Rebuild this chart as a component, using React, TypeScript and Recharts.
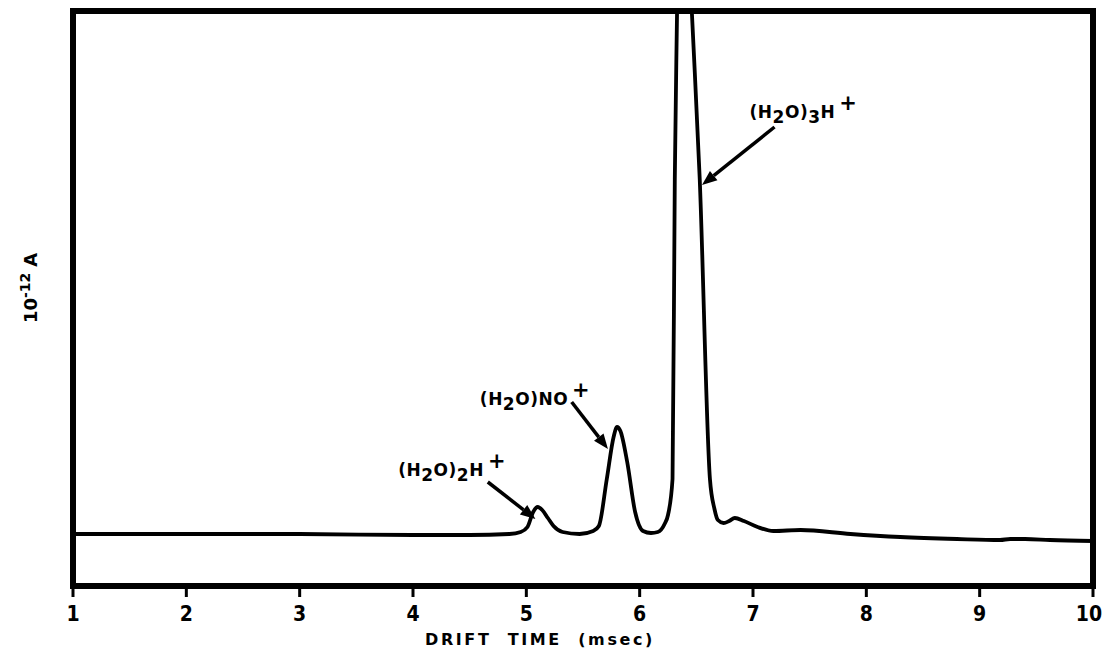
import React from 'react';
import { LineChart, Line, XAxis, YAxis, ReferenceArea, ReferenceLine, ReferenceDot } from 'recharts';

// Drift time (msec)
const driftTimes = [
  1.0, 2.0, 3.0, 4.0, 4.5, 4.85, 4.95, 5.01, 5.06, 5.10, 5.14, 5.19, 5.24, 5.32, 5.47, 5.59,
  5.64, 5.71, 5.77, 5.80, 5.83, 5.89, 5.96, 6.03, 6.10, 6.16, 6.22, 6.25, 6.29, 6.31, 6.33,
  6.36, 6.46, 6.53, 6.62, 6.66, 6.69, 6.74, 6.79, 6.84, 6.92, 7.04, 7.18, 7.42, 7.86, 8.30,
  8.80, 9.18, 9.27, 9.40, 9.62, 10.0,
];
// Ion current (arbitrary units, 10^-12 A scale)
const ionCurrent = [
  52, 52, 52, 51, 51, 52, 54, 59, 74, 79, 76, 68, 60, 54, 52, 55,
  60, 107, 149, 159, 155, 124, 74, 55, 53, 54, 62, 71, 107, 407, 575,
  830, 575, 407, 107, 77, 66, 63, 65, 68, 65, 59, 55, 56, 52, 49,
  47, 46, 47, 47, 46, 45,
];
const xTicks = [1, 2, 3, 4, 5, 6, 7, 8, 9, 10];

// Peak annotations: label anchor (t, v) and arrow from -> to
const annLabelT = [3.87, 4.59, 6.97];
const annLabelV = [110, 181, 468];
const annArrowFrom = [[4.66, 104], [5.40, 184], [7.19, 459]];
const annArrowTo = [[5.08, 67], [5.72, 137], [6.55, 401]];

const data = driftTimes.map((t, i) => ({ t, v: ionCurrent[i] }));

const FONT = '"DejaVu Sans", sans-serif';

const labelParts: Array<Array<[string, 'n' | 'sub' | 'sup']>> = [
  [['(H', 'n'], ['2', 'sub'], ['O)', 'n'], ['2', 'sub'], ['H', 'n'], ['+', 'sup']],
  [['(H', 'n'], ['2', 'sub'], ['O)NO', 'n'], ['+', 'sup']],
  [['(H', 'n'], ['2', 'sub'], ['O)', 'n'], ['3', 'sub'], ['H', 'n'], ['+', 'sup']],
];

function renderIonLabel(idx: number) {
  return (p: any) => {
    const parts = labelParts[idx];
    let prev: 'n' | 'sub' | 'sup' = 'n';
    const offs = { n: 0, sub: 5, sup: -8 };
    return (
      <text x={p.cx} y={p.cy} fontFamily={FONT} fontWeight="bold" fill="#000" fontSize={17} letterSpacing={0.5}>
        {parts.map(([s, k], i) => {
          const dy = offs[k] - offs[prev];
          prev = k;
          return (
            <tspan key={i} dy={dy} dx={k === 'sup' ? 4 : 0} fontSize={k === 'n' ? 17 : k === 'sub' ? 17 : 21}>
              {s}
            </tspan>
          );
        })}
      </text>
    );
  };
}

const arrowShape = (p: any) => {
  const { x1, y1, x2, y2 } = p;
  const dx = x2 - x1;
  const dy = y2 - y1;
  const len = Math.sqrt(dx * dx + dy * dy);
  const ux = dx / len;
  const uy = dy / len;
  const hl = 15;
  const hw = 6;
  const bx = x2 - ux * hl;
  const by = y2 - uy * hl;
  const pts = `${x2},${y2} ${bx - uy * hw},${by + ux * hw} ${bx + uy * hw},${by - ux * hw}`;
  return (
    <g>
      <line x1={x1} y1={y1} x2={bx} y2={by} stroke="#000" strokeWidth={3.5} />
      <polygon points={pts} fill="#000" />
    </g>
  );
};

const XTick = (props: any) => {
  const { x, y, payload, index } = props;
  const last = index === xTicks.length - 1;
  return (
    <text
      x={last ? x - 4 : x}
      y={y}
      dy="0.75em"
      textAnchor="middle"
      fill="#000"
      fontFamily={'"DejaVu Sans Condensed", "DejaVu Sans", sans-serif'}
      fontWeight="bold"
      fontSize={21}
    >
      {payload.value}
    </text>
  );
};

const titles = (props: any) => {
  const vb = props.viewBox || { x: 73, y: 586, width: 1020, height: 30 };
  const ax = vb.x;
  const ay = vb.y;
  return (
    <g>
      <text
        x={ax + 352}
        y={ay + 59}
        fontFamily={FONT}
        fontWeight="bold"
        fontSize={16}
        letterSpacing={2.6}
        fill="#000"
        style={{ whiteSpace: 'pre' }}
        xmlSpace="preserve"
      >
        {'DRIFT  TIME  (msec)'}
      </text>
      <text
        x={ax - 36}
        y={323}
        transform={`rotate(-90, ${ax - 36}, 323)`}
        fontFamily={FONT}
        fontWeight="bold"
        fontSize={18}
        fill="#000"
      >
        <tspan>10</tspan>
        <tspan dy={-7} fontSize={14}>-12</tspan>
        <tspan dy={7} dx={6} fontSize={18}>A</tspan>
      </text>
    </g>
  );
};

export default function App() {
  return (
    <div style={{ position: 'absolute', left: 0, top: 0, width: 1102, height: 654, background: '#fff' }}>
      <LineChart width={1102} height={654} data={data} margin={{ top: 11, right: 9, left: 73, bottom: 38 }}>
        <XAxis
          dataKey="t"
          type="number"
          domain={[1, 10]}
          ticks={xTicks}
          height={30}
          axisLine={{ stroke: '#000', strokeWidth: 6 }}
          tickLine={{ stroke: '#000', strokeWidth: 3 }}
          tickSize={11}
          tickMargin={8}
          tick={<XTick />}
          label={{ content: titles }}
        />
        <YAxis type="number" domain={[0, 575]} allowDataOverflow hide />
        <Line
          type="monotone"
          dataKey="v"
          stroke="#000"
          strokeWidth={3.8}
          dot={false}
          isAnimationActive={false}
        />
        <ReferenceArea x1={1} x2={10} y1={0} y2={575} fill="none" fillOpacity={0} stroke="#000" strokeWidth={6} ifOverflow="visible" />
        {annArrowFrom.map((f, i) => (
          <ReferenceLine
            key={`a${i}`}
            segment={[{ x: f[0], y: f[1] }, { x: annArrowTo[i][0], y: annArrowTo[i][1] }]}
            shape={arrowShape}
            ifOverflow="visible"
          />
        ))}
        {annLabelT.map((t, i) => (
          <ReferenceDot key={`l${i}`} x={t} y={annLabelV[i]} r={0} ifOverflow="visible" shape={renderIonLabel(i)} />
        ))}
      </LineChart>
    </div>
  );
}
